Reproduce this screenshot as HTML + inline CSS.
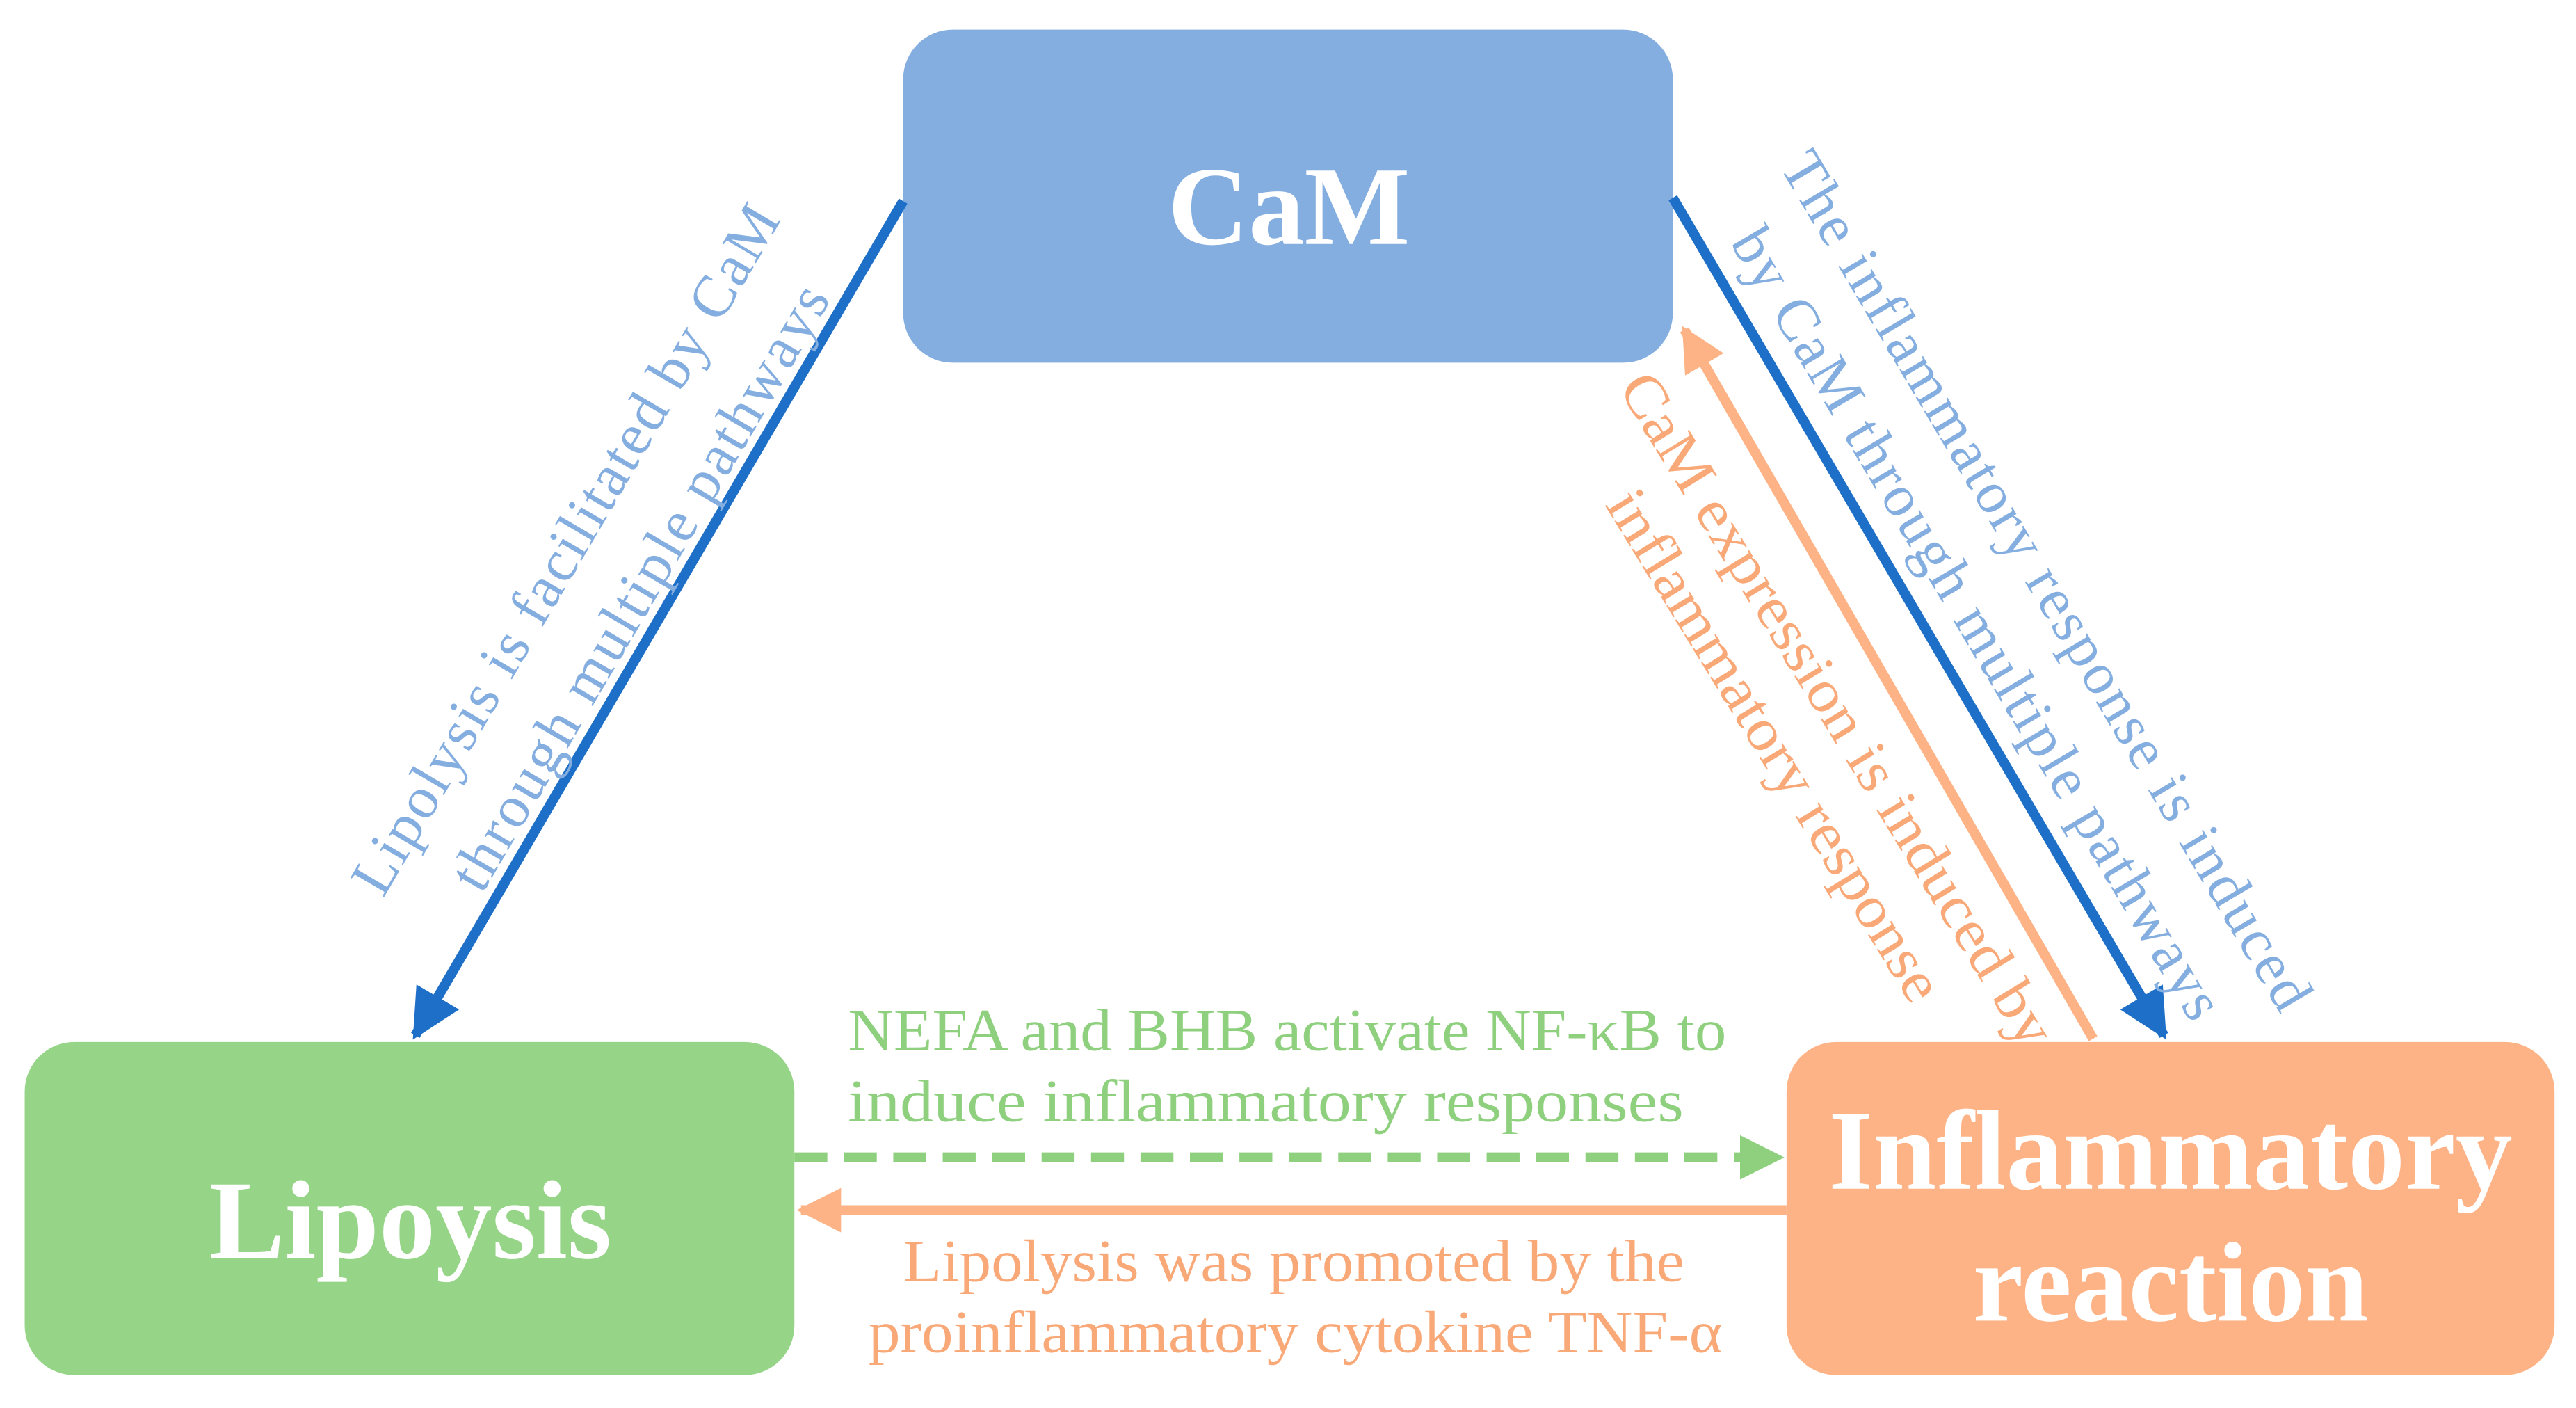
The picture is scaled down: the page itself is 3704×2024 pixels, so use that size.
<!DOCTYPE html>
<html><head><meta charset="utf-8">
<style>
html,body{margin:0;padding:0;background:#fff;}
svg{display:block;}
text{font-family:"Liberation Serif",serif;}
</style></head>
<body>
<svg width="3704" height="2024" viewBox="0 0 1563 854" preserveAspectRatio="none" xmlns="http://www.w3.org/2000/svg">
<defs>
<marker id="ab" viewBox="0 0 10 10" refX="9" refY="5" markerWidth="5" markerHeight="5" orient="auto" markerUnits="strokeWidth"><path d="M0,0 L10,5 L0,10 z" fill="#1E6FC8"/></marker>
<marker id="ao" viewBox="0 0 10 10" refX="9" refY="5" markerWidth="4.5" markerHeight="4.5" orient="auto" markerUnits="strokeWidth"><path d="M0,0 L10,5 L0,10 z" fill="#FDB386"/></marker>
<marker id="ag" viewBox="0 0 10 10" refX="9" refY="5" markerWidth="4.5" markerHeight="4.5" orient="auto" markerUnits="strokeWidth"><path d="M0,0 L10,5 L0,10 z" fill="#8FD07F"/></marker>
</defs>
<rect x="548" y="18" width="467" height="202" rx="30" fill="#85AEE0"/>
<rect x="15" y="632" width="467" height="202" rx="30" fill="#96D488"/>
<rect x="1084" y="632" width="466" height="202" rx="30" fill="#FDB386"/>
<text x="782" y="148" font-size="68" font-weight="bold" fill="#fff" text-anchor="middle" textLength="147" lengthAdjust="spacingAndGlyphs">CaM</text>
<text x="249" y="763" font-size="68" font-weight="bold" fill="#fff" text-anchor="middle" textLength="244" lengthAdjust="spacingAndGlyphs">Lipoysis</text>
<text x="1317" y="721" font-size="69" font-weight="bold" fill="#fff" text-anchor="middle" textLength="415" lengthAdjust="spacingAndGlyphs">Inflammatory</text>
<text x="1317" y="801" font-size="69" font-weight="bold" fill="#fff" text-anchor="middle" textLength="240" lengthAdjust="spacingAndGlyphs">reaction</text>

<line x1="548" y1="122" x2="252" y2="628" stroke="#1E6FC8" stroke-width="6" marker-end="url(#ab)"/>
<line x1="1015" y1="120" x2="1313" y2="628" stroke="#1E6FC8" stroke-width="6" marker-end="url(#ab)"/>
<line x1="1270" y1="630" x2="1022" y2="200" stroke="#FDB386" stroke-width="6" marker-end="url(#ao)"/>
<line x1="482" y1="702" x2="1080" y2="702" stroke="#8FD07F" stroke-width="6" stroke-dasharray="20,10" marker-end="url(#ag)"/>
<line x1="1084" y1="734" x2="486" y2="734" stroke="#FDB386" stroke-width="6" marker-end="url(#ao)"/>

<g font-size="36" fill="#85AEE0" text-anchor="middle" lengthAdjust="spacingAndGlyphs">
<text transform="translate(343,333) rotate(-59.6)" dy="12" textLength="478">Lipolysis is facilitated by CaM</text>
<text transform="translate(388,356) rotate(-59.6)" dy="12" textLength="419">through multiple pathways</text>
<text transform="translate(1242,352) rotate(59.4)" dy="12" textLength="598">The inflammatory response is induced</text>
<text transform="translate(1200,378) rotate(59.4)" dy="12" textLength="551">by CaM through multiple pathways</text>
</g>
<g font-size="36" fill="#F9A878" text-anchor="middle">
<text transform="translate(1115,430) rotate(58.5)" dy="12" textLength="472" lengthAdjust="spacingAndGlyphs">CaM expression is induced by</text>
<text transform="translate(1077,452) rotate(58.5)" dy="12" textLength="357" lengthAdjust="spacingAndGlyphs">inflammatory response</text>
<text x="785" y="777" textLength="474" lengthAdjust="spacingAndGlyphs">Lipolysis was promoted by the</text>
<text x="786" y="820" textLength="518" lengthAdjust="spacingAndGlyphs">proinflammatory cytokine TNF-α</text>
</g>
<g font-size="36" fill="#8FD07F" text-anchor="middle">
<text x="781" y="637" textLength="533" lengthAdjust="spacingAndGlyphs">NEFA and BHB activate NF-κB to</text>
<text x="768" y="680" textLength="507" lengthAdjust="spacingAndGlyphs">induce inflammatory responses</text>
</g>
</svg>
</body></html>
